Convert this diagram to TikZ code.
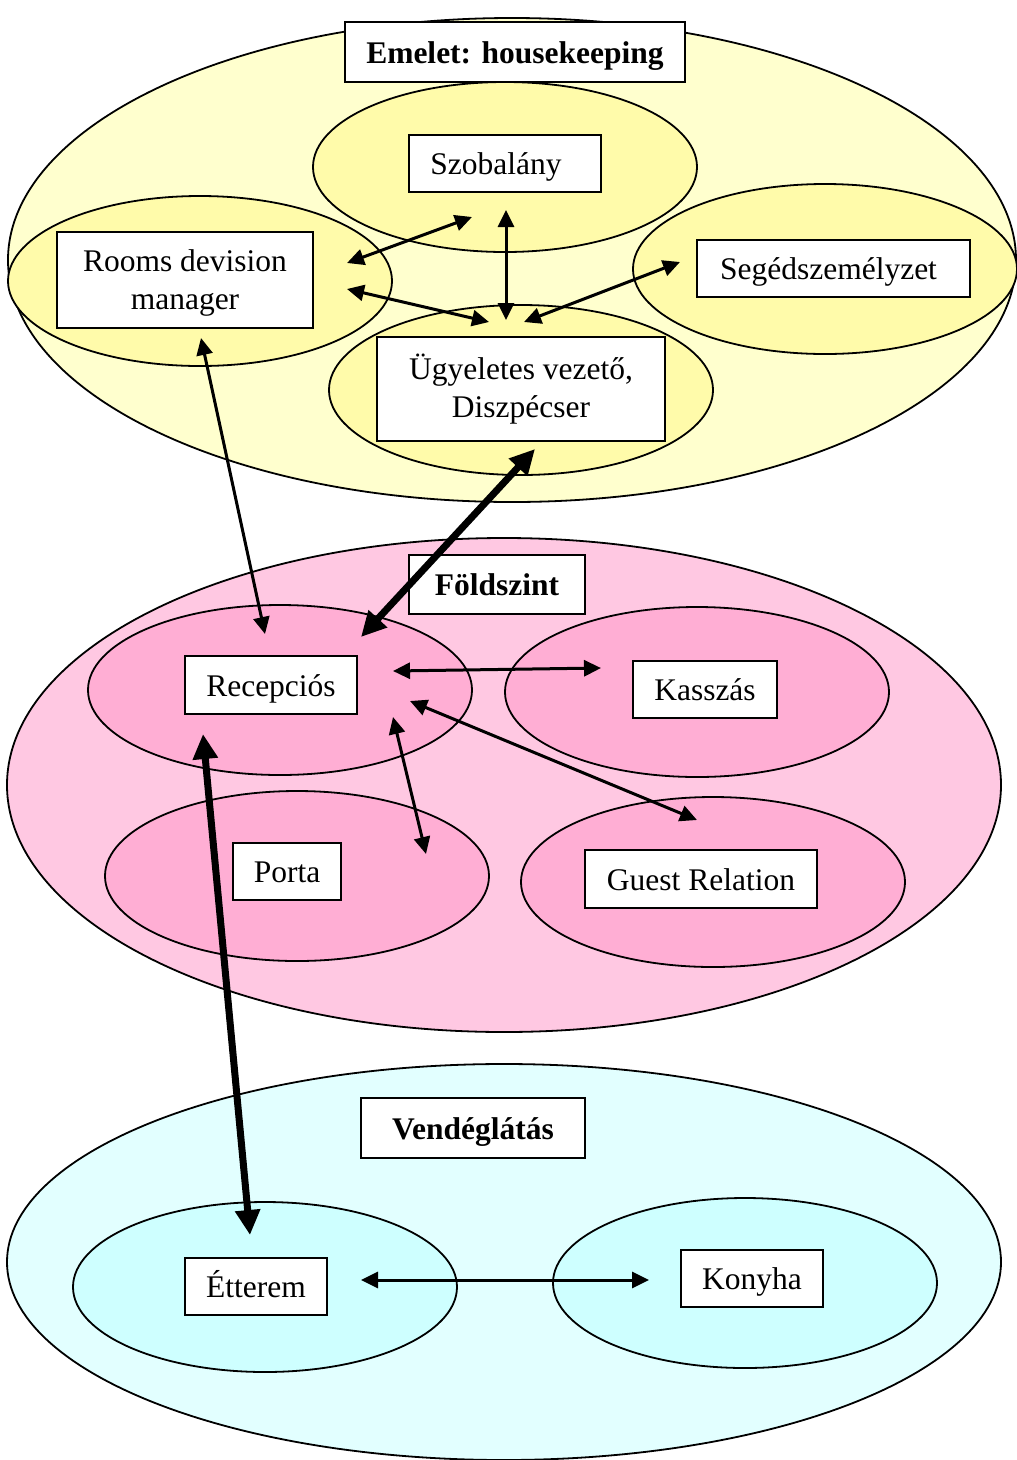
\documentclass[tikz,border=0pt]{standalone}
\usepackage{fontspec}
\setmainfont{Liberation Serif}
\usetikzlibrary{shapes.geometric,arrows.meta}
\definecolor{yelOuter}{RGB}{255,255,206}
\definecolor{yelInner}{RGB}{255,251,170}
\definecolor{pinkOuter}{RGB}{255,200,226}
\definecolor{pinkInner}{RGB}{255,174,212}
\definecolor{cyanOuter}{RGB}{226,255,255}
\definecolor{cyanInner}{RGB}{206,255,255}
\begin{document}
\begin{tikzpicture}[x=1pt,y=-1pt,
  zone/.style={ellipse,draw,line width=1.8pt,inner sep=0pt},
  unit/.style={ellipse,inner sep=0pt,minimum width=384pt,minimum height=170pt},
  rim/.style={line width=1.8pt},
  label/.style={draw,line width=2pt,fill=white,inner sep=0pt,align=center,
    font=\fontsize{31.5}{38}\selectfont},
  oneline/.style={text height=22pt,text depth=0pt},
  title/.style={label,oneline,font=\fontsize{31.5}{38}\selectfont\bfseries},
  link/.style={line width=3pt,
    {Triangle[length=17pt,width=16pt]}-{Triangle[length=17pt,width=16pt]}},
  biglink/.style={line width=7pt,
    {Triangle[length=25pt,width=24pt]}-{Triangle[length=25pt,width=24pt]}}]
\useasboundingbox (0,0) rectangle (1017,1460);

% ---------- upper floor: housekeeping ----------
\node[zone,fill=yelOuter,minimum width=1008pt,minimum height=484pt] (floorUp) at (512,260) {};
\node[unit,fill=yelInner] (eSzoba) at (505,167) {};
\node[unit,fill=yelInner] (eRooms) at (200,281) {};
\node[unit,fill=yelInner] (eSeged) at (825,269) {};
\node[unit,fill=yelInner] (eUgy) at (521,390) {};
\foreach \e in {eSzoba,eRooms,eSeged,eUgy}
  \draw[rim] (\e.center) ellipse [x radius=192, y radius=85];

\node[title,minimum width=340pt,minimum height=60pt] (tUp) at (515,52) {Emelet: housekeeping};
\node[label,oneline,minimum width=192pt,minimum height=57pt] (szoba) at (505,163.5) {Szobalány\hspace*{18pt}};
\node[label,text depth=0pt,minimum width=256pt,minimum height=96pt] (rooms) at (185,280) {Rooms devision\\manager};
\node[label,oneline,minimum width=273pt,minimum height=57pt] (seged) at (833.5,268.5) {Segédszemélyzet\hspace*{10pt}};
\node[label,minimum width=288pt,minimum height=104pt] (ugy) at (521,389) {Ügyeletes vezető,\\Diszpécser};

% ---------- ground floor ----------
\node[zone,fill=pinkOuter,minimum width=994pt,minimum height=494pt] (floorGround) at (504,785) {};
\node[unit,fill=pinkInner] (eRecep) at (280,690) {};
\node[unit,fill=pinkInner] (eKassza) at (697,692) {};
\node[unit,fill=pinkInner] (ePorta) at (297,876) {};
\node[unit,fill=pinkInner] (eGuest) at (713,882) {};
\foreach \e in {eRecep,eKassza,ePorta,eGuest}
  \draw[rim] (\e.center) ellipse [x radius=192, y radius=85];

\node[title,minimum width=176pt,minimum height=59pt] (tGround) at (497,584.5) {Földszint};
\node[label,oneline,minimum width=172pt,minimum height=58pt] (recep) at (271,685) {Recepciós};
\node[label,oneline,minimum width=144pt,minimum height=57pt] (kassza) at (705,689.5) {Kasszás};
\node[label,oneline,minimum width=108pt,minimum height=57pt] (porta) at (287,871.5) {Porta};
\node[label,oneline,minimum width=232pt,minimum height=58pt] (guest) at (701,879) {Guest Relation};

% ---------- catering ----------
\node[zone,fill=cyanOuter,minimum width=994pt,minimum height=396pt] (floorCater) at (504,1262) {};
\node[unit,fill=cyanInner] (eEtterem) at (265,1287) {};
\node[unit,fill=cyanInner] (eKonyha) at (745,1283) {};
\foreach \e in {eEtterem,eKonyha}
  \draw[rim] (\e.center) ellipse [x radius=192, y radius=85];

\node[title,minimum width=224pt,minimum height=60pt] (tCater) at (473,1128) {Vendéglátás};
\node[label,oneline,minimum width=142pt,minimum height=57pt] (etterem) at (256,1286.5) {Étterem};
\node[label,oneline,minimum width=142pt,minimum height=57pt] (konyha) at (752,1278.5) {Konyha};

% ---------- connector end points ----------
\coordinate (roomsA) at (347,263);
\coordinate (szobaA) at (472,217);
\coordinate (roomsB) at (347,289);
\coordinate (ugyB) at (489,322);
\coordinate (szobaC) at (506,210);
\coordinate (ugyC) at (506,320);
\coordinate (ugyD) at (524,322);
\coordinate (segedD) at (680,262);
\coordinate (roomsE) at (201,338);
\coordinate (recepE) at (265,634);
\coordinate (ugyF) at (535,449);
\coordinate (recepF) at (361,637);
\coordinate (recepG) at (393,671);
\coordinate (kasszaG) at (601,668);
\coordinate (recepH) at (410,701);
\coordinate (guestH) at (697,820);
\coordinate (recepI) at (393,717);
\coordinate (portaI) at (426,854);
\coordinate (recepJ) at (203,734);
\coordinate (ettJ) at (250,1235);
\coordinate (ettK) at (361,1280);
\coordinate (konyhaK) at (649,1280);

% ---------- connectors ----------
\draw[link] (roomsA) -- (szobaA);
\draw[link] (roomsB) -- (ugyB);
\draw[link] (szobaC) -- (ugyC);
\draw[link] (ugyD) -- (segedD);
\draw[link] (roomsE) -- (recepE);
\draw[biglink] (ugyF) -- (recepF);
\draw[link] (recepG) -- (kasszaG);
\draw[link] (recepH) -- (guestH);
\draw[link] (recepI) -- (portaI);
\draw[biglink] (recepJ) -- (ettJ);
\draw[link] (ettK) -- (konyhaK);
\end{tikzpicture}
\end{document}
